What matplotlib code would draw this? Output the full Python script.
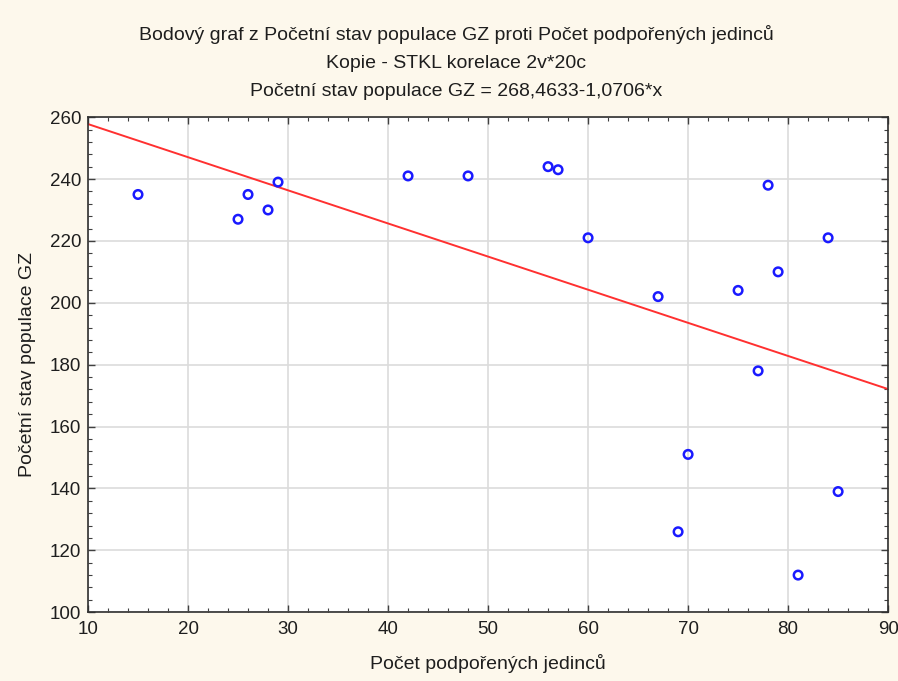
import numpy as np
import matplotlib
matplotlib.use("Agg")
import matplotlib.pyplot as plt
from matplotlib.ticker import MultipleLocator

plt.rcParams['font.family'] = ['Liberation Sans', 'DejaVu Sans']

# data
podporeni = [15, 25, 26, 28, 29, 42, 48, 56, 57, 60,
             67, 69, 70, 75, 77, 78, 79, 81, 84, 85]
populace = [235, 227, 235, 230, 239, 241, 241, 244, 243, 221,
            202, 126, 151, 204, 178, 238, 210, 112, 221, 139]

intercept = 268.4633
slope = -1.0706

title_lines = [
    "Bodový graf z Početní stav populace GZ proti Počet podpořených jedinců",
    "Kopie - STKL korelace 2v*20c",
    "Početní stav populace GZ = 268,4633-1,0706*x",
]
x_label = "Počet podpořených jedinců"
y_label = "Početní stav populace GZ"

bg = '#fdf8ec'
txt = '#1e1e1e'

fig = plt.figure(figsize=(8.98, 6.81), dpi=100, facecolor=bg)
ax = fig.add_axes([0.098, 0.101, 0.891, 0.727])
ax.set_facecolor('white')

xs = np.array([10, 90])
ax.plot(xs, intercept + slope * xs, color='#ff3030', lw=1.4, zorder=2)
ax.scatter(podporeni, populace, s=38, facecolors='none', edgecolors='#1a1aff',
           linewidths=1.8, zorder=3)

ax.set_xlim(10, 90)
ax.set_ylim(100, 260)
ax.xaxis.set_major_locator(MultipleLocator(10))
ax.xaxis.set_minor_locator(MultipleLocator(2))
ax.yaxis.set_major_locator(MultipleLocator(20))
ax.yaxis.set_minor_locator(MultipleLocator(4))
ax.grid(True, which='major', color='#dcdcdc', lw=1.2, zorder=0)
ax.set_axisbelow(True)

ax.tick_params(which='both', direction='in', top=True, right=True,
               color='#404040', labelsize=13.5, labelcolor=txt)
ax.tick_params(which='major', length=5, width=1)
ax.tick_params(which='minor', length=3, width=0.8)
ax.tick_params(axis='x', pad=6)
ax.tick_params(axis='y', pad=5)
for sp in ax.spines.values():
    sp.set_color('#303030')
    sp.set_linewidth(1.2)

ax.set_xlabel(x_label, fontsize=14, color=txt, labelpad=12)
ax.set_ylabel(y_label, fontsize=14, color=txt, labelpad=10)

for i, line in enumerate(title_lines):
    fig.text(0.508, 1 - (35 + i * 28) / 681, line, ha='center', va='center',
             fontsize=14, color=txt)

fig.savefig("out.png", dpi=100, facecolor=bg)
